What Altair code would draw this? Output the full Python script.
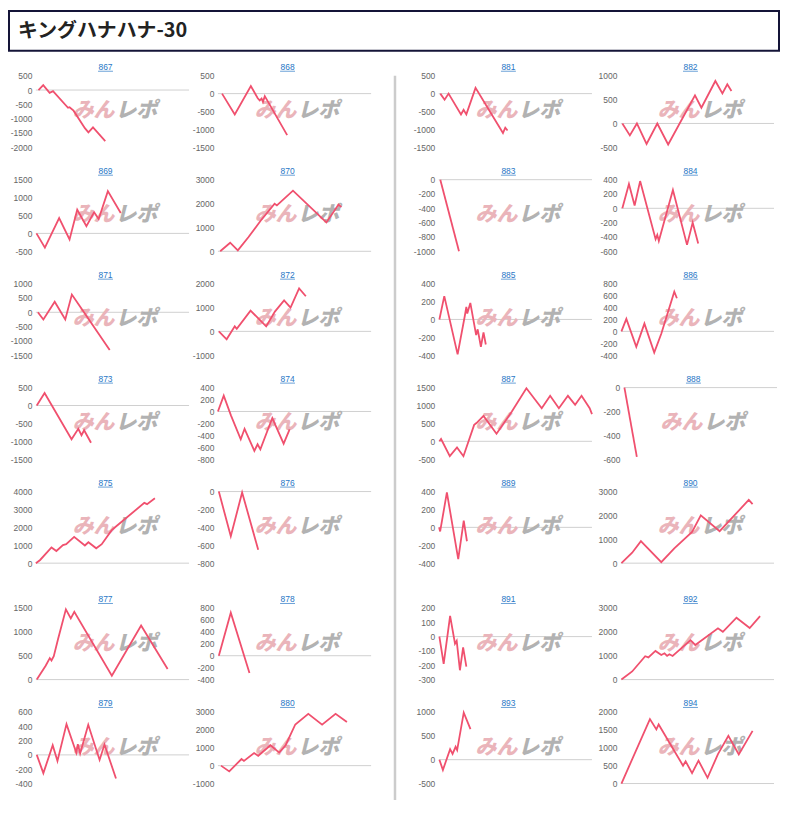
import altair as alt
import pandas as pd

TITLE = "キングハナハナ-30"
ids = list(range(867, 895))

# y-axis domains and tick steps per panel
ylo = [-2000, -1500, -500, 0, -1500, -1000, -1500, -800, 0, -800, 0, -400, -400, -1000,
       -1500, -500, -1000, -600, -400, -400, -500, -600, -400, 0, -300, 0, -500, 0]
yhi = [500, 500, 1500, 3000, 1000, 2000, 500, 400, 4000, 0, 1500, 800, 600, 3000,
       500, 1000, 0, 400, 400, 800, 1500, 0, 400, 3000, 200, 3000, 1000, 2000]
ystep = [500, 500, 500, 1000, 500, 1000, 500, 200, 1000, 200, 500, 200, 200, 1000,
         500, 500, 200, 200, 200, 200, 500, 200, 200, 1000, 100, 1000, 500, 500]

# series vertices: x = position along the game axis (0-100), y = difference
x867 = [1.7, 4.8, 9, 11.2, 21, 22, 24.6, 32, 34.3, 37.3, 45.3]
y867 = [0, 170, -100, -40, -620, -600, -720, -1330, -1480, -1300, -1780]
x868 = [2.7, 11, 21.5, 26, 27.3, 28.5, 29.4, 30.6, 45.2]
y868 = [0, -580, 210, -130, -190, -140, -230, -70, -1160]
x869 = [0.4, 5.9, 15.2, 22, 27, 33, 38, 41, 47, 55.4]
y869 = [0, -400, 430, -170, 660, 200, 590, 400, 1180, 570]
x870 = [1.5, 8, 13, 20, 28, 37, 38.5, 49, 70.8, 78.75, 80.6]
y870 = [0, 360, 40, 600, 1290, 1990, 1920, 2540, 1210, 1960, 1850]
x871 = [1.3, 4.9, 12.3, 19.2, 23.5, 28.5, 48.2]
y871 = [0, -250, 370, -250, 620, 230, -1320]
x872 = [0.6, 5.7, 11, 12.3, 21.3, 31.5, 37.2, 43.2, 47.4, 53, 57.4]
y872 = [0, -330, 210, 110, 870, 210, 830, 1300, 1000, 1800, 1470]
x873 = [0.6, 5.7, 23.3, 27.7, 29.8, 31.5, 36]
y873 = [0, 350, -940, -650, -830, -690, -1040]
x874 = [0, 3.8, 8.5, 14.9, 17.4, 23.8, 25.9, 27.7, 35.5, 42.9, 46.8]
y874 = [0, 265, -65, -465, -290, -660, -550, -635, -110, -540, -300]
x875 = [0, 2.8, 10.2, 13.4, 17.7, 19.8, 25, 32, 34.3, 39.4, 43, 49.4, 51.5, 70.8, 72.6, 77.7]
y875 = [0, 180, 880, 680, 1010, 1060, 1470, 990, 1170, 830, 1060, 1830, 1990, 3370, 3300, 3630]
x876 = [0.6, 8.4, 15.8, 26.3]
y876 = [0, -500, -10, -650]
x877 = [0.6, 6.4, 9.1, 10.2, 11.7, 14.5, 19.6, 22.8, 25.1, 49.6, 68.7, 86]
y877 = [0, 290, 450, 400, 490, 850, 1470, 1280, 1420, 80, 1130, 220]
x878 = [0.6, 8.4, 20.6]
y878 = [0, 720, -290]
x879 = [0.6, 4.9, 11, 14.1, 20, 26.4, 27.4, 28.9, 34.2, 41.6, 44.8, 52.3]
y879 = [0, -255, 135, -85, 430, 30, 150, 20, 420, -70, 145, -330]
x880 = [2, 7.4, 15.4, 17, 23.6, 26.3, 34.3, 40, 44.2, 50.5, 59, 68, 76.8, 84.2]
y880 = [0, -320, 370, 260, 700, 550, 1140, 730, 1140, 2300, 2890, 2290, 2890, 2440]
x881 = [1, 3.8, 6.4, 14.5, 16.2, 18, 24, 41.9, 43.4, 44.9]
y881 = [0, -170, 0, -580, -450, -580, 160, -1100, -950, -1030]
x882 = [1, 5.9, 10.5, 16.8, 23.8, 30.9, 48.4, 52.6, 61.7, 66.3, 69.5, 72.2]
y882 = [0, -250, 0, -430, 0, -440, 590, 330, 890, 630, 820, 680]
x883 = [1, 13.2]
y883 = [0, -1000]
x884 = [1, 5.3, 9, 12.6, 22.7, 23.8, 24.8, 34, 43.2, 46.9, 50.5]
y884 = [0, 340, 40, 380, -430, -370, -455, 255, -510, -200, -490]
x885 = [0.4, 3.6, 12.3, 16.9, 18, 18.6, 20.6, 24.4, 25.4, 27.5, 29.2, 30.7]
y885 = [0, 260, -390, 30, 140, 65, 185, -175, -110, -305, -145, -280]
x886 = [0.4, 3.6, 10.1, 15.4, 21.8, 26.4, 34.9, 36.6]
y886 = [0, 210, -260, 130, -355, -40, 665, 555]
x887 = [0.4, 1.5, 7.2, 11.9, 16.1, 23.1, 24.6, 29.2, 37.7, 47.7, 57.2, 67.2, 72.7, 78.4, 84.3, 89, 93.2, 98.5, 100]
y887 = [0, 65, -415, -170, -415, 460, 510, 710, 210, 830, 1480, 925, 1270, 925, 1270, 1020, 1270, 925, 760]
x888 = [0.4, 8.5]
y888 = [0, -580]
x889 = [0.2, 0.9, 5.3, 12.7, 16.3, 18.4]
y889 = [0, -45, 390, -355, 75, -155]
x890 = [0.4, 7.4, 13.1, 26.4, 34.9, 46.5, 52.2, 64.5, 83.5, 86]
y890 = [0, 440, 920, 40, 620, 1310, 2000, 1340, 2650, 2470]
x891 = [0.4, 3.2, 7.4, 10.6, 11.7, 13.8, 15.9, 18]
y891 = [0, -190, 145, -50, -30, -235, -75, -210]
x892 = [0.4, 7.4, 15.9, 18, 22.6, 26.4, 28.5, 30.2, 31.7, 33.8, 45.5, 48.6, 63.4, 66.6, 75.5, 84.1, 90.9]
y892 = [0, 340, 980, 930, 1200, 1030, 1100, 990, 1060, 990, 1650, 1450, 2150, 2000, 2590, 2160, 2660]
x893 = [0.4, 2.7, 7.4, 9, 11, 12, 16.3, 20.7]
y893 = [0, -215, 220, 120, 270, 200, 985, 640]
x894 = [0.4, 19, 23.2, 24.7, 40.6, 42.3, 46.5, 50.7, 56.6, 63.4, 70.2, 77, 86]
y894 = [0, 1800, 1510, 1650, 500, 620, 290, 640, 160, 820, 1330, 810, 1470]

series_x = [x867, x868, x869, x870, x871, x872, x873, x874, x875, x876, x877, x878, x879, x880,
            x881, x882, x883, x884, x885, x886, x887, x888, x889, x890, x891, x892, x893, x894]
series_y = [y867, y868, y869, y870, y871, y872, y873, y874, y875, y876, y877, y878, y879, y880,
            y881, y882, y883, y884, y885, y886, y887, y888, y889, y890, y891, y892, y893, y894]

W, H = 154, 72
LINE = "#f0506e"
LINK = "#2a78c6"
one = pd.DataFrame({"k": [0]})


def panel(i):
    lo, hi, st = ylo[i], yhi[i], ystep[i]
    df = pd.DataFrame({"x": series_x[i], "y": series_y[i]})
    ticks = list(range(lo, hi + 1, st))
    yax = alt.Axis(values=ticks, title=None, ticks=False, domain=False,
                   labelFontSize=8.5, labelColor="#666666", labelPadding=4,
                   labelFont="Liberation Sans", gridColor="#e9e9e9",
                   labelExpr="datum.value + ''")
    ysc = alt.Scale(domain=[lo, hi], nice=False, zero=False)
    zero = alt.Chart(one).mark_rule(color="#d0d0d0", strokeWidth=1).encode(
        y=alt.Y(datum=0, type="quantitative", scale=ysc, axis=yax))
    wm1 = alt.Chart(one).mark_text(
        text="みん", color="#eab4ba", fontSize=21, fontWeight=900, fontStyle="italic",
        font="Noto Sans CJK JP", align="left", baseline="middle"
    ).encode(x=alt.value(37), y=alt.value(36))
    wm2 = alt.Chart(one).mark_text(
        text="レポ", color="#b2b2b2", fontSize=21, fontWeight=900, fontStyle="italic",
        font="Noto Sans CJK JP", align="left", baseline="middle"
    ).encode(x=alt.value(80), y=alt.value(36))
    line = alt.Chart(df).mark_line(color=LINE, strokeWidth=1.8).encode(
        x=alt.X("x:Q", scale=alt.Scale(domain=[0, 100], nice=False), axis=None),
        y=alt.Y("y:Q", scale=ysc, axis=yax),
    )
    title = alt.Chart(one).mark_text(
        text=str(ids[i]), color=LINK, fontSize=8.5, font="Liberation Sans", baseline="middle"
    ).encode(x=alt.value(70), y=alt.value(-9))
    uline = alt.Chart(one).mark_rule(color=LINK, strokeWidth=0.7).encode(
        x=alt.value(62.5), x2=alt.value(77.5), y=alt.value(-4.5))
    anchor = alt.Chart(one).mark_rule(color="white", strokeWidth=0.5).encode(
        x=alt.value(-27), y=alt.value(-18), y2=alt.value(H))
    return alt.layer(zero, wm1, wm2, line, title, uline, anchor).properties(width=W, height=H)


def block(start):
    rows = [alt.hconcat(panel(start + 2 * r), panel(start + 2 * r + 1), spacing=0) for r in range(7)]
    return alt.vconcat(alt.vconcat(*rows[:5], spacing=8.5),
                       alt.vconcat(*rows[5:], spacing=8.5), spacing=21)


header = alt.layer(
    alt.Chart(one).mark_rect(fill="white", stroke="#141438", strokeWidth=2).encode(
        x=alt.value(-27), x2=alt.value(747), y=alt.value(1), y2=alt.value(41)),
    alt.Chart(one).mark_text(
        text=TITLE, fontSize=20, fontWeight="bold", font="Noto Sans CJK JP",
        color="#222222", align="left", baseline="middle"
    ).encode(x=alt.value(-18), y=alt.value(21)),
).properties(width=740, height=42)

sep = alt.Chart(one).mark_rule(color="#cccccc", strokeWidth=2.5).encode(
    x=alt.value(1), y=alt.value(0), y2=alt.value(728)).properties(width=2, height=728)

body = alt.hconcat(alt.hconcat(block(0), sep, spacing=21), block(14), spacing=14)

chart = alt.vconcat(header, body, spacing=5).properties(padding=0).configure_view(stroke=None)

chart.save("out.html", embed_options={"renderer": "svg", "actions": False})
